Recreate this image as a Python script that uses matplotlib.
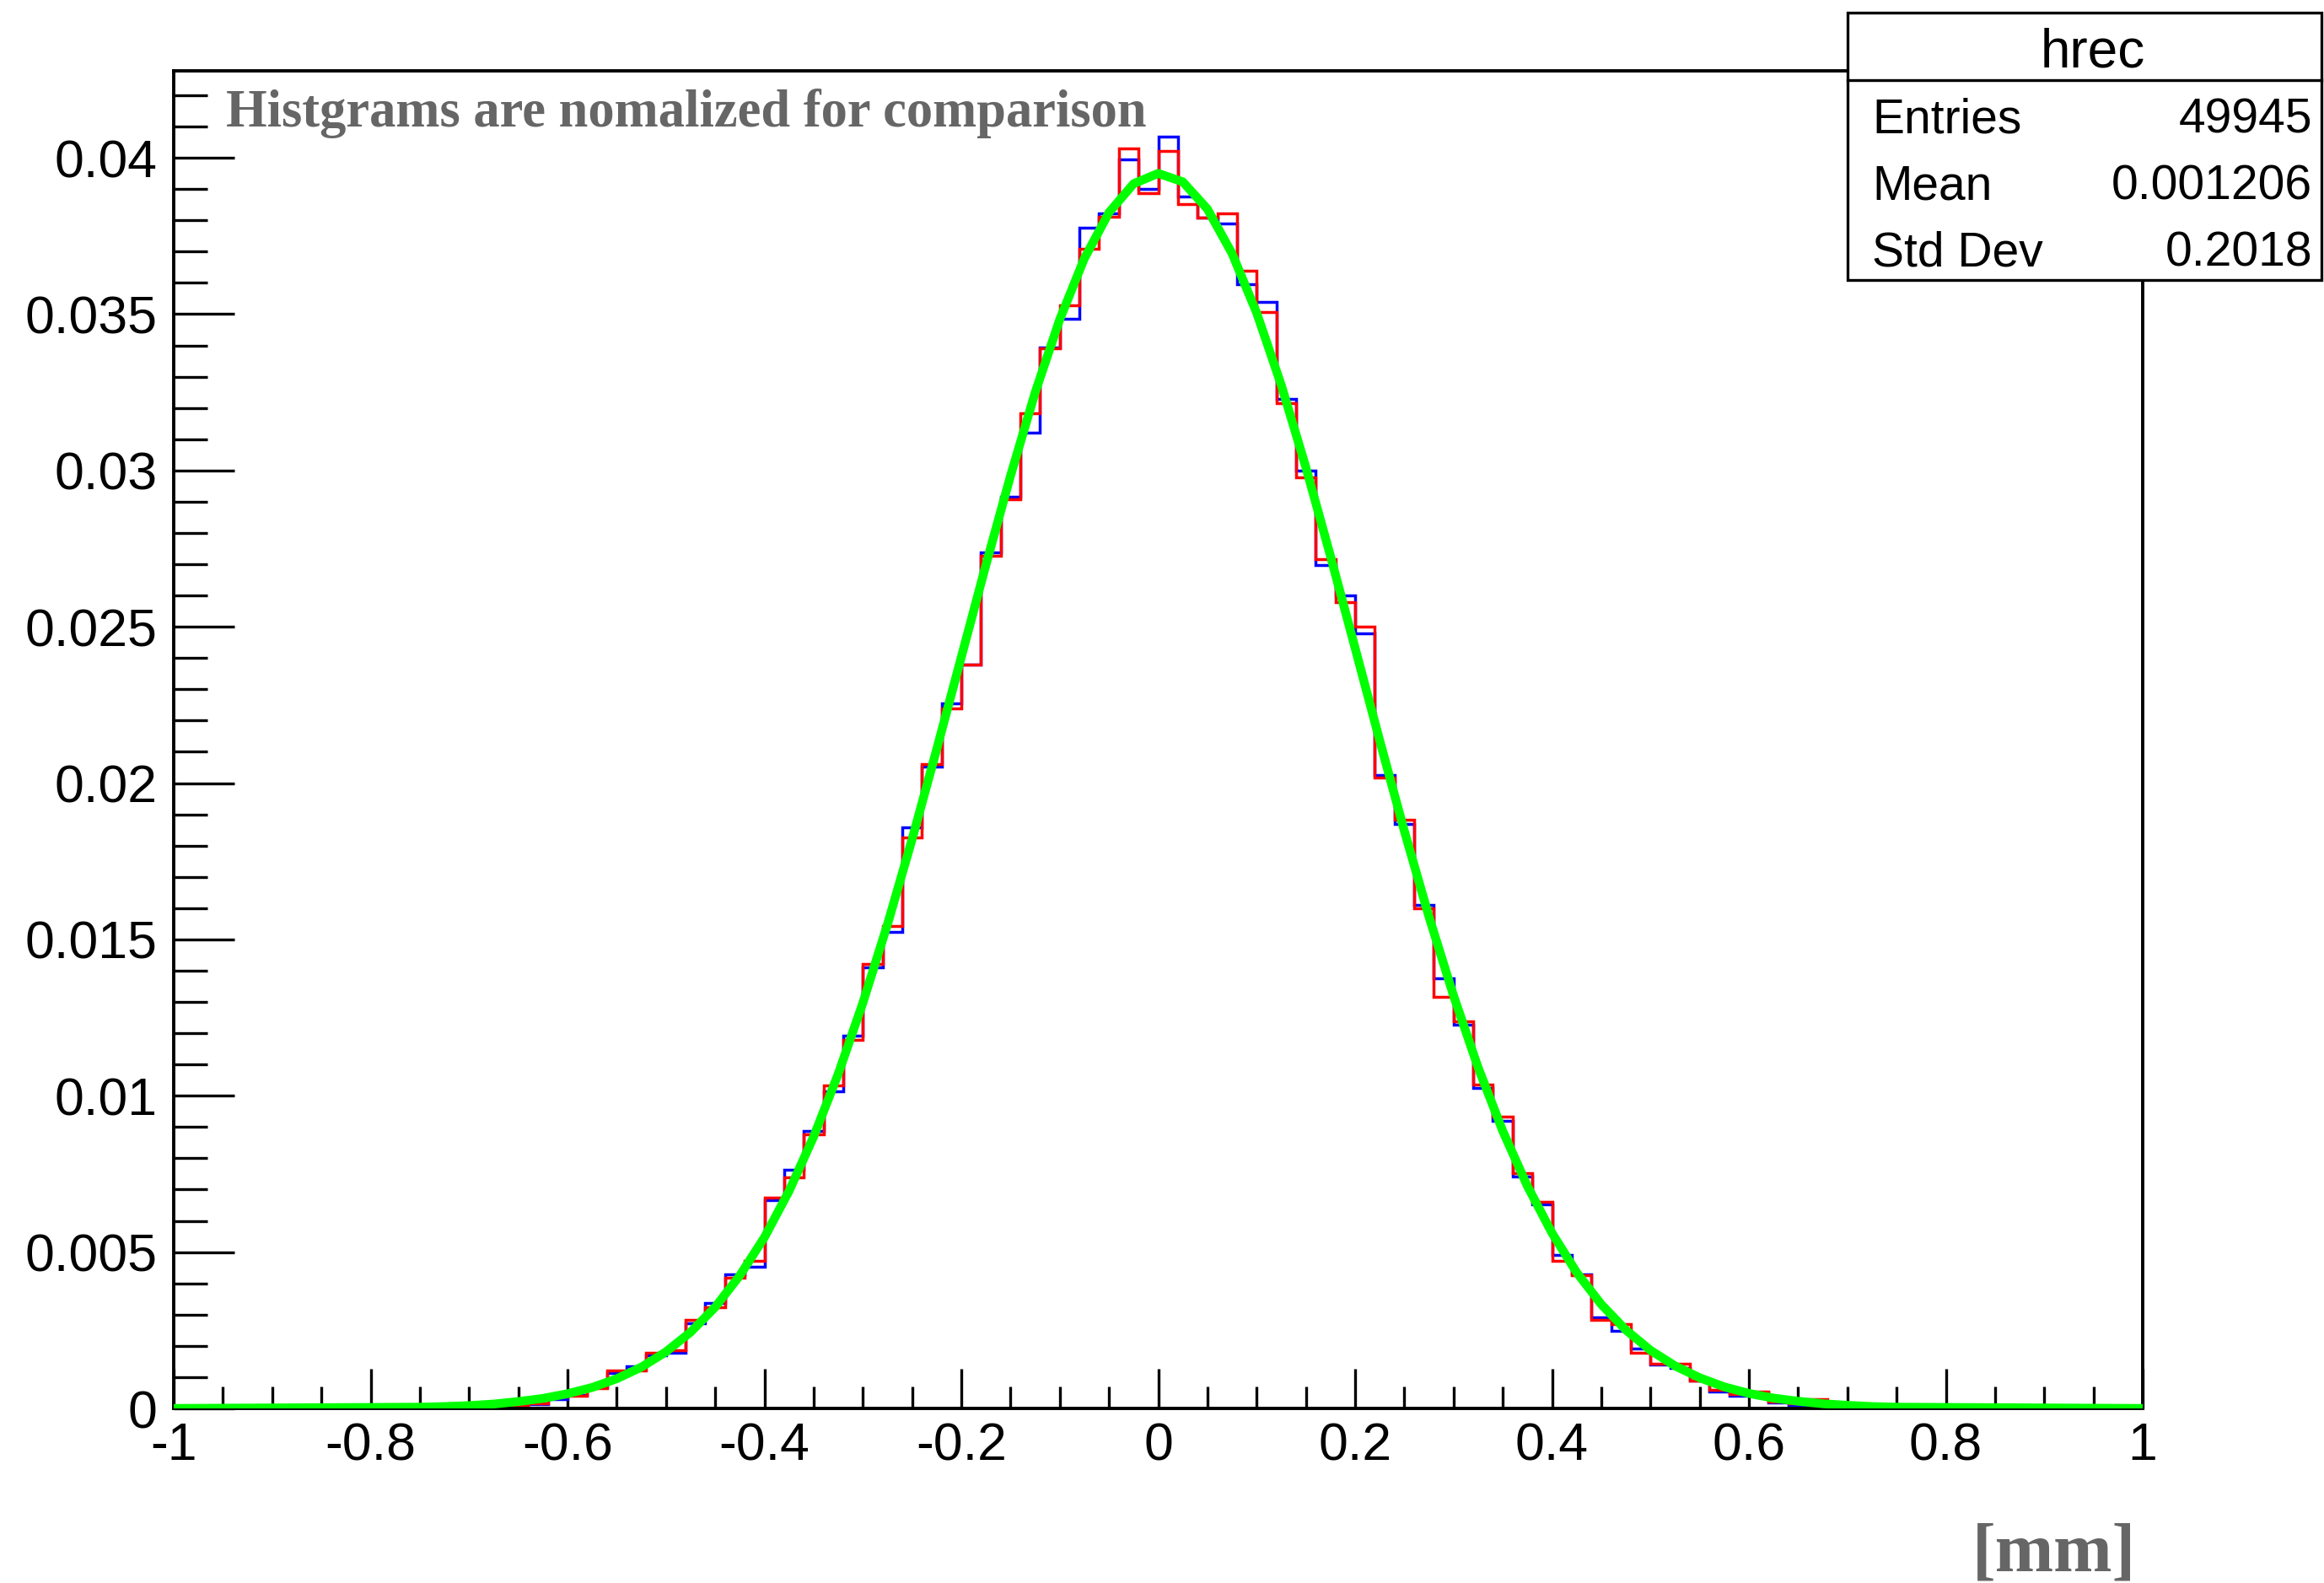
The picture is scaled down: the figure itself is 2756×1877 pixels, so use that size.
import numpy as np
import matplotlib
matplotlib.use("Agg")
import matplotlib.pyplot as plt
from matplotlib.patches import Rectangle
from matplotlib.lines import Line2D
from matplotlib.ticker import MultipleLocator

# histogram binning: 100 bins on [-1, 1]
bin_edges = np.linspace(-1, 1, 101)
n_empty_left = 14   # bins from -1.00 to -0.74 are empty
n_empty_right = 14  # bins from 0.72 to 0.98 are empty

# bin contents for left edges -0.72 ... 0.70 (normalized)
blue_vals = [0, 0.00002, 0.00005, 0.00008, 0.00014, 0.0003, 0.00042, 0.0007, 0.00112, 0.00135,
             0.0017, 0.00177, 0.00272, 0.00338, 0.00428, 0.00452, 0.00665, 0.00764, 0.00887, 0.01015,
             0.01192, 0.0141, 0.01524, 0.01859, 0.02054, 0.02255, 0.0238, 0.02738, 0.02917, 0.0312,
             0.03394, 0.03484, 0.03776, 0.03821, 0.03995, 0.0390, 0.04068, 0.03875, 0.0381, 0.0379,
             0.03596, 0.03538, 0.03228, 0.02999, 0.02698, 0.026, 0.02479, 0.02026, 0.0187, 0.0161,
             0.01376, 0.01228, 0.01024, 0.0092, 0.00742, 0.00652, 0.00492, 0.0043, 0.00291, 0.00248,
             0.00192, 0.0014, 0.0013, 0.0009, 0.00054, 0.0004, 0.0005, 0.0002, 0.00012, 0.0002,
             0.00003, 0]
red_vals = [0, 0.00003, 0.00005, 0.0001, 0.00015, 0.00037, 0.0004, 0.00064, 0.00121, 0.00121,
            0.00177, 0.00187, 0.00282, 0.00324, 0.00419, 0.00471, 0.00674, 0.0074, 0.00877, 0.01034,
            0.0118, 0.01422, 0.01542, 0.01825, 0.0206, 0.0224, 0.02379, 0.02728, 0.02909, 0.03183,
            0.0339, 0.03529, 0.03709, 0.03812, 0.04031, 0.03888, 0.04023, 0.03852, 0.03808, 0.03821,
            0.0364, 0.03506, 0.03214, 0.02978, 0.02716, 0.0258, 0.025, 0.02018, 0.01882, 0.016,
            0.01317, 0.01237, 0.01035, 0.00934, 0.00752, 0.00662, 0.00471, 0.00425, 0.00282, 0.00269,
            0.00177, 0.00144, 0.00144, 0.00088, 0.0006, 0.00045, 0.00054, 0.00021, 0.00015, 0.00031,
            0.00003, 0]

# green fit curve
fit_x = [-1.0, -0.75, -0.725, -0.70, -0.675, -0.65, -0.625, -0.60, -0.575, -0.55, -0.525,
         -0.50, -0.475, -0.45, -0.425, -0.40, -0.375, -0.35, -0.325, -0.30, -0.275,
         -0.25, -0.225, -0.20, -0.175, -0.15, -0.125, -0.10, -0.075, -0.05, -0.025,
         0.0, 0.025, 0.05, 0.075, 0.10, 0.125, 0.15, 0.175, 0.20, 0.225,
         0.25, 0.275, 0.30, 0.325, 0.35, 0.375, 0.40, 0.425, 0.45, 0.475,
         0.50, 0.525, 0.55, 0.575, 0.60, 0.625, 0.65, 0.675, 0.70, 0.725, 0.75, 1.0]
fit_y = [0.0, 0.00004, 0.00006, 0.00009, 0.00014, 0.00022, 0.00032, 0.00047, 0.00067, 0.00095, 0.00132,
         0.00181, 0.00244, 0.00324, 0.00425, 0.00547, 0.00695, 0.00869, 0.0107, 0.01297, 0.01548,
         0.0182, 0.02108, 0.02403, 0.02698, 0.02983, 0.03249, 0.03483, 0.03678, 0.03825, 0.03917,
         0.0395, 0.03923, 0.03836, 0.03694, 0.03504, 0.03273, 0.0301, 0.02726, 0.02432, 0.02136,
         0.01847, 0.01573, 0.0132, 0.0109, 0.00887, 0.00711, 0.00561, 0.00435, 0.00333, 0.00251,
         0.00186, 0.00136, 0.00098, 0.00069, 0.00048, 0.00033, 0.00023, 0.00015, 0.0001, 0.00006, 0.00004, 0.0]

stats_title = "hrec"
stats_labels = ["Entries", "Mean", "Std Dev"]
stats_values = ["49945", "0.001206", "0.2018"]
note_text = "Histgrams are nomalized for comparison"
unit_text = "[mm]"

blue = np.concatenate([np.zeros(n_empty_left), blue_vals, np.zeros(n_empty_right)])
red = np.concatenate([np.zeros(n_empty_left), red_vals, np.zeros(n_empty_right)])

W, H = 2756, 1877
fig = plt.figure(figsize=(W / 100, H / 100), dpi=100)
ax = fig.add_axes([206 / W, 1 - 1670 / H, (2541 - 206) / W, (1670 - 84) / H])

ax.stairs(blue, bin_edges, color="#0000ff", lw=2.5, zorder=2)
ax.stairs(red, bin_edges, color="#ff0000", lw=2.5, zorder=2.1)
ax.plot(fit_x, fit_y, color="#00ff00", lw=7.5, zorder=3)

ax.set_xlim(-1, 1)
ax.set_ylim(0, 0.04278)
ax.xaxis.set_major_locator(MultipleLocator(0.2))
ax.xaxis.set_minor_locator(MultipleLocator(0.05))
ax.yaxis.set_major_locator(MultipleLocator(0.005))
ax.yaxis.set_minor_locator(MultipleLocator(0.001))
ax.xaxis.set_major_formatter(plt.FuncFormatter(lambda v, p: "%g" % round(v, 3)))
ax.yaxis.set_major_formatter(plt.FuncFormatter(lambda v, p: "%g" % round(v, 4)))

tick_font = "Liberation Sans"
ax.tick_params(axis="y", which="major", direction="in", length=52, width=2.4, pad=14,
               labelsize=45, left=True, right=False)
ax.tick_params(axis="y", which="minor", direction="in", length=29, width=2.4, left=True, right=False)
ax.tick_params(axis="x", which="major", direction="in", length=34, width=2.4, pad=11,
               labelsize=45, bottom=True, top=False)
ax.tick_params(axis="x", which="minor", direction="in", length=19, width=2.4, bottom=True, top=False)
for lab in ax.get_xticklabels() + ax.get_yticklabels():
    lab.set_fontfamily(tick_font)
for sp in ax.spines.values():
    sp.set_linewidth(2.8)

# note and unit
fig.text(268 / W, 1 - 150 / H, note_text, family="Liberation Serif", fontsize=45,
         fontweight="bold", color="#666666", ha="left", va="baseline")
fig.text(2533 / W, 1 - 1862 / H, unit_text, family="Liberation Serif", fontsize=60,
         fontweight="bold", color="#666666", ha="right", va="baseline")

# stats box
bx0, bx1 = 2191 / W, 2753 / W
by0, by1 = 1 - 332 / H, 1 - 15 / H
fig.add_artist(Rectangle((bx0, by0), bx1 - bx0, by1 - by0, transform=fig.transFigure,
                         facecolor="white", edgecolor="black", lw=2.4, zorder=5))
fig.add_artist(Line2D([bx0, bx1], [1 - 95 / H] * 2, transform=fig.transFigure,
                      color="black", lw=2.4, zorder=6))
fig.text(2482 / W, 1 - 80 / H, stats_title, family=tick_font, fontsize=46,
         ha="center", va="baseline", zorder=7)
for i, (lab, val) in enumerate(zip(stats_labels, stats_values)):
    y = 1 - (158 + 78.5 * i) / H
    fig.text(2220 / W, y, lab, family=tick_font, fontsize=41, ha="left", va="baseline", zorder=7)
    fig.text(2742 / W, y, val, family=tick_font, fontsize=41, ha="right", va="baseline", zorder=7)

fig.savefig("out.png", dpi=100, facecolor="white")
